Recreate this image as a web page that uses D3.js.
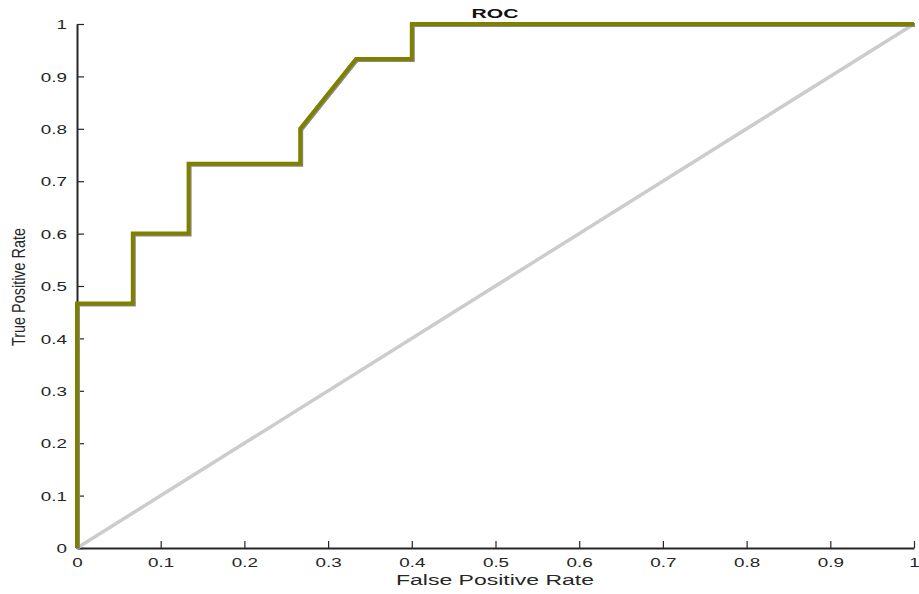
<!DOCTYPE html>
<html>
<head>
<meta charset="utf-8">
<script src="https://cdn.jsdelivr.net/npm/d3@7"></script>
<style>
    body { margin: 0; background: #fff; }
    svg { display: block; font-family: "Liberation Sans", Arial, sans-serif; }
</style>
</head>
<body>
<div class="draw-area"></div>
<script>
// ROC curve points (false positive rate, true positive rate)
const fpr = [0, 0, 1/15, 1/15, 2/15, 2/15, 4/15, 4/15, 5/15, 6/15, 6/15, 1];
const tpr = [0, 7/15, 7/15, 9/15, 9/15, 11/15, 11/15, 12/15, 14/15, 14/15, 1, 1];

// Chance line
const chanceX = [0, 1];
const chanceY = [0, 1];

const tickValues = [0, 0.1, 0.2, 0.3, 0.4, 0.5, 0.6, 0.7, 0.8, 0.9, 1];

const width = 919, height = 594;
const margin = { top: 24, right: 5, bottom: 46, left: 77 };

const svg = d3.select(".draw-area")
    .append("svg")
    .attr("width", width)
    .attr("height", height);

const x = d3.scaleLinear().domain([0, 1]).range([margin.left, width - margin.right]);
const y = d3.scaleLinear().domain([0, 1]).range([height - margin.bottom, margin.top]);

// Axes (ticks point inward)
const fmt = d => d === 0 || d === 1 ? String(d) : d.toFixed(1);

const xAxis = svg.append("g")
    .attr("transform", `translate(0,${y(0)})`)
    .call(d3.axisBottom(x).tickValues(tickValues).tickFormat(fmt).tickSizeInner(-7).tickSizeOuter(0));

const yAxis = svg.append("g")
    .attr("transform", `translate(${x(0)},0)`)
    .call(d3.axisLeft(y).tickValues(tickValues).tickFormat(fmt).tickSizeInner(-7).tickSizeOuter(0));

[xAxis, yAxis].forEach(g => {
    g.select(".domain").attr("stroke", "#262626").attr("stroke-width", 2);
    g.selectAll(".tick line").attr("stroke", "#262626").attr("stroke-width", 1.2);
    g.selectAll(".tick text")
        .attr("fill", "#262626")
        .attr("font-size", 13)
        .attr("font-family", "Liberation Sans, Arial, sans-serif");
});

// Stretched-looking tick labels
xAxis.selectAll(".tick text")
    .attr("y", 0)
    .attr("dy", 0)
    .attr("transform", "translate(0,19) scale(1.45,1)");

yAxis.selectAll(".tick text")
    .attr("x", 0)
    .attr("dy", "0.36em")
    .attr("transform", "translate(-10,0) scale(1.45,1)");

// Chance diagonal
const chance = chanceX.map((v, i) => [v, chanceY[i]]);
svg.append("path")
    .datum(chance)
    .attr("fill", "none")
    .attr("stroke", "#cccccc")
    .attr("stroke-width", 3.5)
    .attr("d", d3.line().x(d => x(d[0])).y(d => y(d[1])));

// ROC curve with a soft shadow underneath
const roc = fpr.map((v, i) => [v, tpr[i]]);
const rocLine = d3.line().x(d => x(d[0])).y(d => y(d[1]));

svg.append("path")
    .datum(roc)
    .attr("fill", "none")
    .attr("stroke", "#8a8a8a")
    .attr("stroke-width", 4)
    .attr("transform", "translate(1,1)")
    .attr("d", rocLine);

svg.append("path")
    .datum(roc)
    .attr("fill", "none")
    .attr("stroke", "#808000")
    .attr("stroke-width", 4)
    .attr("d", rocLine);

// Title and axis labels
svg.append("text")
    .attr("x", 495)
    .attr("y", 18)
    .attr("text-anchor", "middle")
    .attr("font-size", 13)
    .attr("font-weight", "bold")
    .attr("fill", "#111")
    .attr("textLength", 47)
    .attr("lengthAdjust", "spacingAndGlyphs")
    .text("ROC");

svg.append("text")
    .attr("x", 495)
    .attr("y", 585)
    .attr("text-anchor", "middle")
    .attr("font-size", 14)
    .attr("fill", "#262626")
    .attr("textLength", 198)
    .attr("lengthAdjust", "spacingAndGlyphs")
    .text("False Positive Rate");

svg.append("text")
    .attr("transform", "translate(25,287) rotate(-90)")
    .attr("text-anchor", "middle")
    .attr("font-size", 19)
    .attr("fill", "#262626")
    .attr("textLength", 118)
    .attr("lengthAdjust", "spacingAndGlyphs")
    .text("True Positive Rate");
</script>
</body>
</html>
